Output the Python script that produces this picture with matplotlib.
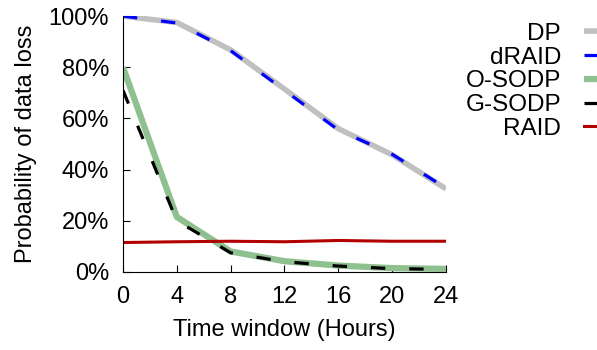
import matplotlib
matplotlib.use('Agg')
import matplotlib.pyplot as plt

hours = [0, 4, 8, 12, 16, 20, 24]
dp = [100, 97.5, 86.8, 71.5, 56, 45.8, 32.5]
draid = [100, 97.3, 86.5, 71.0, 55.5, 46.0, 32.8]
o_sodp = [80, 21.5, 8, 4.2, 2.5, 1.5, 1.2]
g_sodp = [71, 20, 7.5, 4.0, 2.3, 1.3, 1.0]
raid = [11.5, 11.8, 12.0, 11.8, 12.3, 12.0, 12.0]

yticks = [0, 20, 40, 60, 80, 100]
ytick_labels = ['0%', '20%', '40%', '60%', '80%', '100%']

plt.rcParams['font.family'] = ['Liberation Sans', 'DejaVu Sans']
plt.rcParams['font.size'] = 17

fig = plt.figure(figsize=(5.97, 3.5), dpi=100)
ax = fig.add_axes([0.206, 0.223, 0.541, 0.731])

ax.plot(hours, dp, color='#c0c0c0', lw=4, label='DP', solid_capstyle='butt')
ax.plot(hours, draid, color='#0000ff', lw=2.3, dashes=(4.5, 7.5), label='dRAID')
ax.plot(hours, o_sodp, color='#8fc08f', lw=4.5, label='O-SODP', solid_capstyle='butt')
ax.plot(hours, g_sodp, color='#000000', lw=2.3, dashes=(4.5, 7.5), label='G-SODP')
ax.plot(hours, raid, color='#b20000', lw=2.2, label='RAID')

ax.set_xlim(0, 24)
ax.set_ylim(0, 100)
ax.set_xticks(hours)
ax.set_yticks(yticks)
ax.set_yticklabels(ytick_labels)
ax.spines['top'].set_visible(False)
ax.spines['right'].set_visible(False)
ax.tick_params(direction='in', length=5, width=0.8, pad=10)
ax.set_xlabel('Time window (Hours)', labelpad=8)
ax.set_ylabel('Probability of data loss', labelpad=8)

fig.legend(loc='upper right', bbox_to_anchor=(1.08, 0.997), frameon=False,
           markerfirst=False, labelspacing=0.07, handlelength=1.6,
           handletextpad=0.95, fontsize=17.5)

fig.savefig('out.png', dpi=100)
